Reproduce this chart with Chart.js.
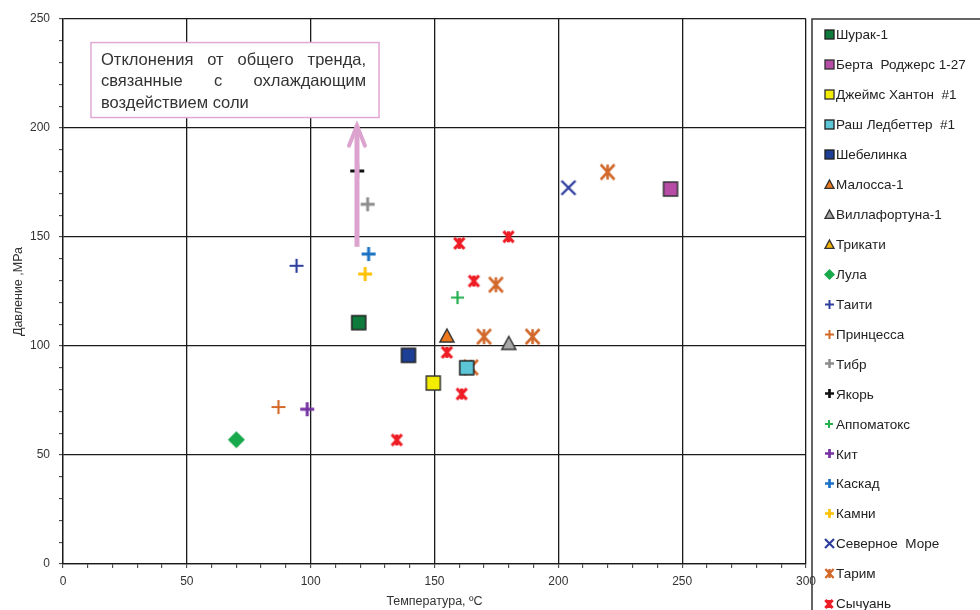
<!DOCTYPE html>
<html><head><meta charset="utf-8">
<script src="https://cdn.jsdelivr.net/npm/chart.js@4.4.1/dist/chart.umd.min.js"></script>
<style>html,body{margin:0;padding:0;background:#fff;}#wrap{width:980px;height:610px;}</style>
</head><body><div id="wrap"><canvas id="c" width="980" height="610"></canvas></div>
<script>
// ---- data (Temperature °C, Pressure MPa) ----
const shurakT = [119.4], shurakP = [110.7];
const bertaT = [245.3], bertaP = [172];
const hantonT = [149.5], hantonP = [83];
const rushT = [163], rushP = [90];
const shebelinkaT = [139.5], shebelinkaP = [95.7];
const malossaT = [155], malossaP = [104.6];
const villaT = [180], villaP = [101.2];
const trikatiT = [], trikatiP = [];
const lulaT = [70], lulaP = [57];
const taitiT = [94.3], taitiP = [136.8];
const princessT = [87], princessP = [72];
const tibrT = [123], tibrP = [165];
const yakorT = [118.8], yakorP = [180.3];
const appoT = [159.3], appoP = [122.2];
const kitT = [98.6], kitP = [71];
const kaskadT = [123.4], kaskadP = [142.2];
const kamniT = [122], kamniP = [133];
const northSeaT = [204.1], northSeaP = [172.6];
const tarimT = [219.9, 174.8, 170, 189.6, 164.7], tarimP = [179.8, 128.1, 104.3, 104.3, 90.2];
const sichuanT = [160, 179.9, 165.9, 155, 161, 134.8], sichuanP = [147.1, 150.1, 129.8, 97.1, 78, 56.9];

const xTicksMajor = [0, 50, 100, 150, 200, 250, 300];
const yTicksMajor = [0, 50, 100, 150, 200, 250];

const xTitle = 'Температура, ºС';
const yTitle = 'Давление ,МРа';
const noteLines = ['Отклонения от общего тренда,', 'связанные с охлаждающим', 'воздействием соли'];

// ---- marker drawing ----
function mk(type, color, size, lw, stroke) {
  const pad = 3;
  const s = Math.round(size + pad * 2);
  const c = document.createElement('canvas');
  c.width = s; c.height = s;
  const g = c.getContext('2d');
  const m = s / 2, h = size / 2;
  g.lineCap = 'butt';
  g.lineJoin = 'miter';
  if (type === 'square') {
    g.fillStyle = color; g.fillRect(m - h, m - h, size, size);
    g.strokeStyle = stroke; g.lineWidth = lw; g.strokeRect(m - h, m - h, size, size);
  } else if (type === 'triangle') {
    g.beginPath(); g.moveTo(m, m - h); g.lineTo(m + h, m + h * 0.85); g.lineTo(m - h, m + h * 0.85); g.closePath();
    g.fillStyle = color; g.fill(); g.strokeStyle = stroke; g.lineWidth = lw; g.stroke();
  } else if (type === 'diamond') {
    g.beginPath(); g.moveTo(m, m - h); g.lineTo(m + h, m); g.lineTo(m, m + h); g.lineTo(m - h, m); g.closePath();
    g.fillStyle = color; g.fill();
  } else if (type === 'plus') {
    g.strokeStyle = color; g.lineWidth = lw;
    g.beginPath(); g.moveTo(m - h, m); g.lineTo(m + h, m); g.moveTo(m, m - h); g.lineTo(m, m + h); g.stroke();
  } else if (type === 'x') {
    g.strokeStyle = color; g.lineWidth = lw;
    g.beginPath(); g.moveTo(m - h, m - h); g.lineTo(m + h, m + h); g.moveTo(m + h, m - h); g.lineTo(m - h, m + h); g.stroke();
  } else if (type === 'star') {
    g.strokeStyle = color; g.lineWidth = lw;
    g.beginPath();
    g.moveTo(m - h * 0.92, m - h); g.lineTo(m + h * 0.92, m + h);
    g.moveTo(m + h * 0.92, m - h); g.lineTo(m - h * 0.92, m + h);
    g.moveTo(m, m - h); g.lineTo(m, m + h);
    g.stroke();
  }
  return c;
}

// series spec: label, T, P, marker type, color, size, lineWidth, stroke
const series = [
  ['Шурак-1', shurakT, shurakP, 'square', '#0e7a3c', 14, 1.5, '#222'],
  ['Берта  Роджерс 1-27', bertaT, bertaP, 'square', '#b64ca6', 14, 1.5, '#333'],
  ['Джеймс Хантон  #1', hantonT, hantonP, 'square', '#f4ec00', 14, 1.5, '#333'],
  ['Раш Ледбеттер  #1', rushT, rushP, 'square', '#5cc6d6', 14, 1.5, '#222'],
  ['Шебелинка', shebelinkaT, shebelinkaP, 'square', '#1d3f95', 14, 1.5, '#222'],
  ['Малосса-1', malossaT, malossaP, 'triangle', '#ef7a1d', 14, 1.5, '#333'],
  ['Виллафортуна-1', villaT, villaP, 'triangle', '#a8a8a8', 14, 1.5, '#333'],
  ['Трикати', trikatiT, trikatiP, 'triangle', '#f6b400', 14, 1.5, '#333'],
  ['Лула', lulaT, lulaP, 'diamond', '#19a84b', 17, 0, null],
  ['Таити', taitiT, taitiP, 'plus', '#2e3f9e', 14, 2.2, null],
  ['Принцесса', princessT, princessP, 'plus', '#d46a2a', 14, 2.2, null],
  ['Тибр', tibrT, tibrP, 'plus', '#8c8c8c', 14, 2.8, null],
  ['Якорь', yakorT, yakorP, 'plus', '#111111', 14, 3, null],
  ['Аппоматокс', appoT, appoP, 'plus', '#22b04c', 13, 2.2, null],
  ['Кит', kitT, kitP, 'plus', '#7432a2', 14, 3, null],
  ['Каскад', kaskadT, kaskadP, 'plus', '#1b73c6', 14, 3, null],
  ['Камни', kamniT, kamniP, 'plus', '#ffc107', 14, 3, null],
  ['Северное  Море', northSeaT, northSeaP, 'x', '#2e3f9e', 14, 2.4, null],
  ['Тарим', tarimT, tarimP, 'star', '#d2692b', 15, 2.6, null],
  ['Сычуань', sichuanT, sichuanP, 'star', '#ee1d25', 11, 3.2, null]
];

const datasets = series.map(s => ({
  label: s[0],
  data: s[1].map((t, i) => ({ x: t, y: s[2][i] })),
  pointStyle: mk(s[3], s[4], s[5], s[6], s[7]),
  legendMarker: mk(s[3], s[4], Math.max(8, Math.round(s[5] * 0.62)), Math.max(1, s[6] * 0.9), s[7]),
  pointRadius: 7,
  pointHoverRadius: 7,
  showLine: false
}));

// ---- plugins ----
const notePlugin = {
  id: 'note',
  afterDatasetsDraw(chart) {
    const ctx = chart.ctx, xs = chart.scales.x, ys = chart.scales.y;
    ctx.save();
    // arrow
    const ax = xs.getPixelForValue(118.7);
    const aTop = ys.getPixelForValue(202), aBot = ys.getPixelForValue(145.5);
    ctx.strokeStyle = '#dca3cf';
    ctx.lineWidth = 5;
    ctx.lineCap = 'butt';
    ctx.beginPath(); ctx.moveTo(ax, aBot); ctx.lineTo(ax, aTop + 2); ctx.stroke();
    ctx.lineWidth = 4; ctx.lineJoin = 'miter'; ctx.lineCap = 'round';
    ctx.beginPath(); ctx.moveTo(ax - 8, aTop + 22); ctx.lineTo(ax, aTop + 2); ctx.lineTo(ax + 8, aTop + 22); ctx.stroke();
    // box
    const bx1 = xs.getPixelForValue(11.3), bx2 = xs.getPixelForValue(127.6);
    const by1 = ys.getPixelForValue(239.2), by2 = ys.getPixelForValue(204.8);
    ctx.fillStyle = '#ffffff';
    ctx.fillRect(bx1, by1, bx2 - bx1, by2 - by1);
    ctx.strokeStyle = '#e2a8d4'; ctx.lineWidth = 1.5;
    ctx.strokeRect(bx1, by1, bx2 - bx1, by2 - by1);
    ctx.fillStyle = '#333';
    ctx.font = '16.5px "Liberation Sans", Arial, sans-serif';
    ctx.textBaseline = 'middle'; ctx.textAlign = 'left';
    const tx = bx1 + 10, tw = bx2 - bx1 - 23;
    noteLines.forEach((line, i) => {
      const y = by1 + 17.5 + i * 21.7;
      const words = line.split(' ');
      if (i < noteLines.length - 1 && words.length > 1) {
        const total = words.reduce((a, w) => a + ctx.measureText(w).width, 0);
        const gap = (tw - total) / (words.length - 1);
        let x = tx;
        words.forEach(w => { ctx.fillText(w, x, y); x += ctx.measureText(w).width + gap; });
      } else {
        ctx.fillText(line, tx, y);
      }
    });
    ctx.restore();
  }
};

const legendPlugin = {
  id: 'customLegend',
  afterDraw(chart) {
    const ctx = chart.ctx, area = chart.chartArea;
    const lx = area.right + 6, ly = area.top;
    ctx.save();
    ctx.strokeStyle = '#333'; ctx.lineWidth = 1.5;
    ctx.strokeRect(lx, ly, 400, 700);
    ctx.font = '13.5px "Liberation Sans", Arial, sans-serif';
    ctx.fillStyle = '#222'; ctx.textBaseline = 'middle'; ctx.textAlign = 'left';
    chart.data.datasets.forEach((ds, i) => {
      const y = ly + 15.5 + i * 29.95;
      const img = ds.legendMarker;
      ctx.drawImage(img, Math.round(lx + 17 - img.width / 2), Math.round(y - img.height / 2));
      ctx.fillText(ds.label, lx + 24, y + 1);
    });
    ctx.restore();
  }
};

const gridCol = '#1a1a1a';
new Chart(document.getElementById('c'), {
  type: 'scatter',
  data: { datasets },
  options: {
    responsive: false,
    devicePixelRatio: 1,
    animation: false,
    layout: { padding: { top: 19, right: 174, left: 0, bottom: 0 } },
    plugins: { legend: { display: false }, tooltip: { enabled: false } },
    scales: {
      x: {
        type: 'linear', min: 0, max: 300,
        afterFit(s) { s.height = 46; },
        afterBuildTicks(s) { s.ticks = []; for (let v = 0; v <= 300; v += 10) s.ticks.push({ value: v }); },
        ticks: {
          autoSkip: false, maxRotation: 0, padding: 6, color: '#333',
          font: { family: '"Liberation Sans", Arial, sans-serif', size: 12 },
          callback: v => xTicksMajor.includes(v) ? String(v) : ''
        },
        grid: {
          color: c => (c.tick && xTicksMajor.includes(c.tick.value)) ? gridCol : 'rgba(0,0,0,0)',
          lineWidth: 1.3, tickLength: 4, tickColor: '#333', tickWidth: 1, drawTicks: true
        },
        border: { display: true, color: gridCol, width: 1.3 },
        title: {
          display: true, text: xTitle, color: '#333',
          font: { family: '"Liberation Sans", Arial, sans-serif', size: 12.5 },
          padding: { top: 0, bottom: 1 }
        }
      },
      y: {
        type: 'linear', min: 0, max: 250,
        afterFit(s) { s.width = 63; },
        afterBuildTicks(s) { s.ticks = []; for (let v = 0; v <= 250; v += 10) s.ticks.push({ value: v }); },
        ticks: {
          autoSkip: false, padding: 9, color: '#333',
          font: { family: '"Liberation Sans", Arial, sans-serif', size: 12 },
          callback: v => yTicksMajor.includes(v) ? String(v) : ''
        },
        grid: {
          color: c => (c.tick && yTicksMajor.includes(c.tick.value)) ? gridCol : 'rgba(0,0,0,0)',
          lineWidth: 1.3, tickLength: 4, tickColor: '#333', tickWidth: 1, drawTicks: true
        },
        border: { display: true, color: gridCol, width: 1.3 },
        title: {
          display: true, text: yTitle, color: '#333',
          font: { family: '"Liberation Sans", Arial, sans-serif', size: 12.5 },
          padding: { top: 11, bottom: 0 }
        }
      }
    }
  },
  plugins: [notePlugin, legendPlugin]
});
</script></body></html>
